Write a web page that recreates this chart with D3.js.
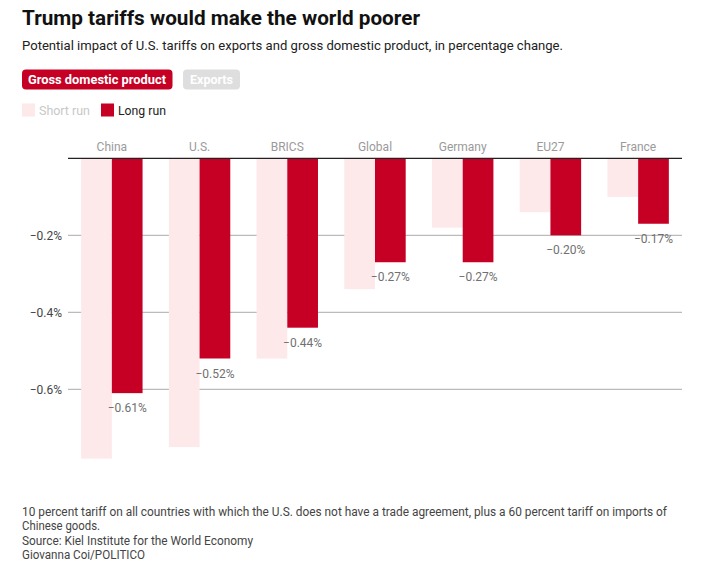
<!DOCTYPE html>
<html>
<head>
<meta charset="utf-8">
<script src="https://cdn.jsdelivr.net/npm/d3@7"></script>
<style>
  html, body { margin: 0; padding: 0; background: #fff; }
  svg { display: block; font-family: Roboto, "Noto Sans", sans-serif; }
</style>
</head>
<body>
<svg id="chart" width="707" height="575"></svg>
<script>
const categories = ["China", "U.S.", "BRICS", "Global", "Germany", "EU27", "France"];
const shortRun = [-0.78, -0.75, -0.52, -0.34, -0.18, -0.14, -0.10];
const longRun = [-0.61, -0.52, -0.44, -0.27, -0.27, -0.20, -0.17];
const yTicks = [-0.2, -0.4, -0.6];
const seriesNames = ["Short run", "Long run"];
const footerLines = [
  "10 percent tariff on all countries with which the U.S. does not have a trade agreement, plus a 60 percent tariff on imports of",
  "Chinese goods.",
  "Source: Kiel Institute for the World Economy",
  "Giovanna Coi/POLITICO"
];

const RED = "#c60025";
const PINK = "#fde8ea";

const svg = d3.select("#chart");

// Title & subtitle
svg.append("text").attr("x", 22).attr("y", 25)
  .attr("font-size", 20).attr("font-weight", 700).attr("fill", "#111")
  .attr("textLength", 398).attr("lengthAdjust", "spacingAndGlyphs")
  .text("Trump tariffs would make the world poorer");
svg.append("text").attr("x", 22).attr("y", 50)
  .attr("font-size", 13).attr("fill", "#222")
  .attr("textLength", 541).attr("lengthAdjust", "spacingAndGlyphs")
  .text("Potential impact of U.S. tariffs on exports and gross domestic product, in percentage change.");

// Buttons
svg.append("rect").attr("x", 22).attr("y", 69.5).attr("width", 150.5).attr("height", 20)
  .attr("rx", 4).attr("fill", RED);
svg.append("text").attr("x", 28).attr("y", 84)
  .attr("font-size", 13).attr("font-weight", 700).attr("fill", "#fff")
  .attr("textLength", 138).attr("lengthAdjust", "spacingAndGlyphs")
  .text("Gross domestic product");
svg.append("rect").attr("x", 183).attr("y", 69.5).attr("width", 57).attr("height", 20)
  .attr("rx", 4).attr("fill", "#dedede");
svg.append("text").attr("x", 190).attr("y", 84)
  .attr("font-size", 13).attr("font-weight", 700).attr("fill", "#fff")
  .attr("textLength", 43).attr("lengthAdjust", "spacingAndGlyphs")
  .text("Exports");

// Legend
const legendItems = [
  {name: seriesNames[0], color: PINK, text: "#c8c8c8", x: 22, tx: 39, tl: 51},
  {name: seriesNames[1], color: RED, text: "#222", x: 101, tx: 118, tl: 48}
];
legendItems.forEach(d => {
  svg.append("rect").attr("x", d.x).attr("y", 103.5).attr("width", 13).attr("height", 13).attr("fill", d.color);
  svg.append("text").attr("x", d.tx).attr("y", 114.5).attr("font-size", 12).attr("fill", d.text)
    .attr("textLength", d.tl).attr("lengthAdjust", "spacingAndGlyphs").text(d.name);
});

// Scales
const x0 = d3.scaleBand().domain(categories).range([68, 682]).paddingInner(0.3).paddingOuter(0.15);
const x1 = d3.scaleBand().domain(seriesNames).range([0, x0.bandwidth()]);
const y = d3.scaleLinear().domain([0, -0.6]).range([158.3, 389.3]);

// Gridlines + y labels
const yAxis = d3.axisLeft(y).tickValues(yTicks).tickSize(0)
  .tickFormat(d => d3.format(".1f")(d).replace("-", "\u2212") + "%");
const gy = svg.append("g").attr("transform", "translate(62,0)").call(yAxis);
gy.select(".domain").remove();
gy.selectAll("text").attr("x", 0).attr("dy", "0.35em").attr("font-size", 12)
  .attr("font-family", "Roboto, sans-serif").attr("fill", "#444");
svg.append("g").selectAll("line").data(yTicks).join("line")
  .attr("x1", 68).attr("x2", 682).attr("y1", d => y(d)).attr("y2", d => y(d))
  .attr("stroke", "#aaa").attr("stroke-width", 1);

// Bars
const data = categories.map((c, i) => ({cat: c, values: [
  {key: seriesNames[0], v: shortRun[i]},
  {key: seriesNames[1], v: longRun[i]}
]}));
const groups = svg.append("g").selectAll("g").data(data).join("g")
  .attr("transform", d => `translate(${x0(d.cat)},0)`);
groups.selectAll("rect").data(d => d.values).join("rect")
  .attr("x", d => x1(d.key)).attr("width", x1.bandwidth())
  .attr("y", y(0)).attr("height", d => y(d.v) - y(0))
  .attr("fill", d => d.key === seriesNames[0] ? PINK : RED);

// Value labels (long run)
groups.append("text")
  .attr("x", d => x1(seriesNames[1]) + x1.bandwidth() / 2)
  .attr("y", (d, i) => y(longRun[i]) + 19)
  .attr("text-anchor", "middle").attr("font-size", 12).attr("fill", "#707070")
  .text((d, i) => "\u2212" + d3.format(".2f")(Math.abs(longRun[i])) + "%");

// Category labels
svg.append("g").selectAll("text").data(categories).join("text")
  .attr("x", d => x0(d) + x0.bandwidth() / 2).attr("y", 151)
  .attr("text-anchor", "middle").attr("font-size", 12).attr("fill", "#9a9a9a")
  .text(d => d);

// Zero line
svg.append("line").attr("x1", 68).attr("x2", 682).attr("y1", y(0)).attr("y2", y(0))
  .attr("stroke", "#222").attr("stroke-width", 1.2);

// Footer
const footerY = [516, 530, 545, 559];
const footerLen = [645, 78, 231, 123];
footerLines.forEach((t, i) => {
  svg.append("text").attr("x", 22).attr("y", footerY[i]).attr("font-size", 12).attr("fill", "#444")
    .attr("textLength", footerLen[i]).attr("lengthAdjust", "spacingAndGlyphs").text(t);
});
</script>
</body>
</html>
